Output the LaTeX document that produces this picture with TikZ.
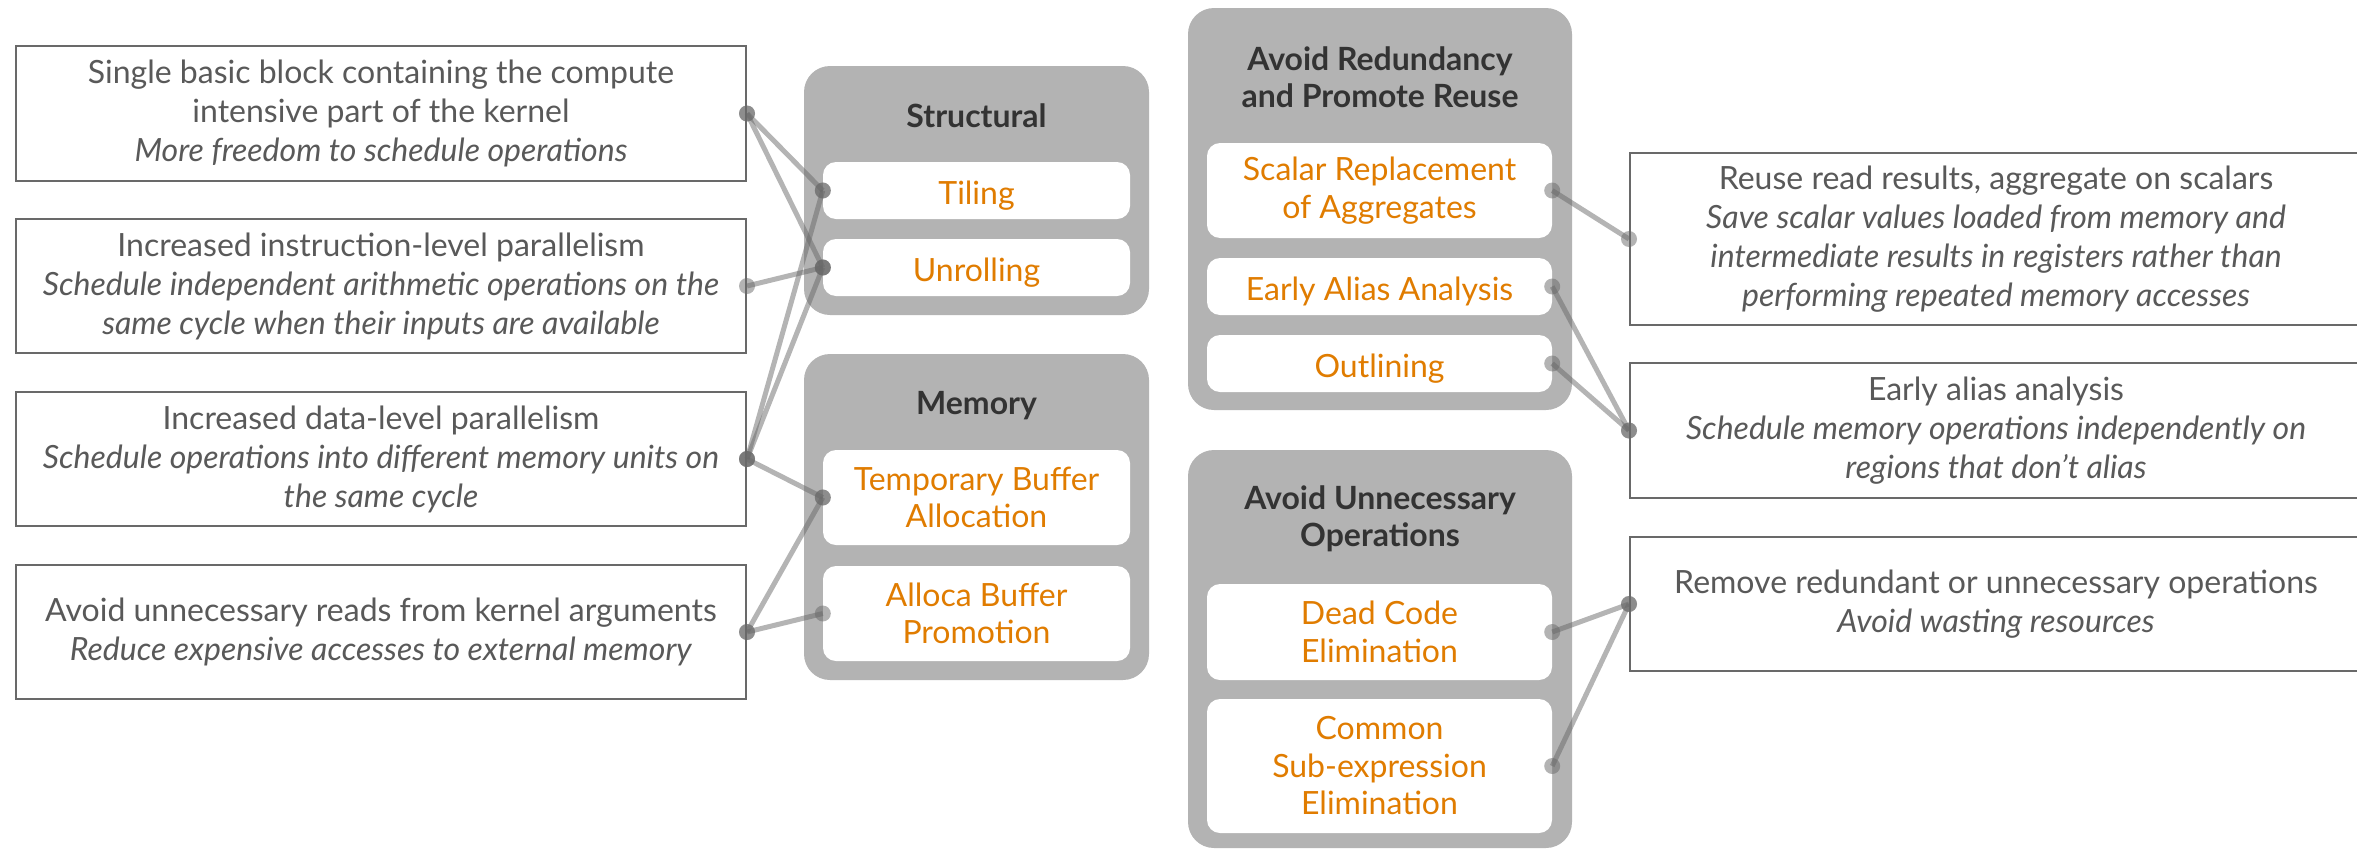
\documentclass[tikz,border=0pt]{standalone}
\usepackage{fontspec}
\setmainfont{Lato}
\definecolor{grpfill}{RGB}{179,179,179}
\definecolor{orng}{RGB}{224,124,0}
\definecolor{txtgray}{RGB}{89,89,89}
\definecolor{boxline}{RGB}{105,105,105}
\definecolor{ttl}{RGB}{51,51,51}
\definecolor{connc}{RGB}{105,105,105}
\newcommand\linkab[2]{%
  \draw[connline] (#1.east) -- (#2.west);
  \fill[conndot] (#1.east) circle (8pt);
  \fill[conndot] (#2.west) circle (8pt);
}
\newcommand\topstrut{\rule{0pt}{31pt}}
\newcommand\itemstrut{\rule{0pt}{33pt}}
\begin{document}
\begin{tikzpicture}[x=1pt,y=-1pt,
  desc/.style={draw=boxline, line width=2pt, fill=white, text=txtgray, align=center,
    inner sep=0pt, font=\fontsize{32}{39}\selectfont, execute at begin node=\topstrut},
  grp/.style={fill=grpfill, rounded corners=26pt, inner sep=0pt, draw=none},
  itembox/.style={fill=white, rounded corners=13pt, inner sep=0pt, text=orng, align=center,
    font=\fontsize{32}{37.5}\selectfont, minimum width=#1, execute at begin node=\itemstrut},
  ttlnode/.style={text=ttl, align=center, inner sep=0pt, font=\bfseries\fontsize{32}{37.5}\selectfont},
  connline/.style={draw=connc, line width=5pt, draw opacity=0.5},
  conndot/.style={fill=connc, fill opacity=0.5}
]
\useasboundingbox (0,0) rectangle (2357,849);

% left description boxes
\node[desc, minimum width=730pt, minimum height=135pt] (L1) at (381,113.5)
  {Single basic block containing the compute\\intensive part of the kernel\\\textit{More freedom to schedule operations}};
\node[desc, minimum width=730pt, minimum height=134pt] (L2) at (381,286)
  {Increased instruction-level parallelism\\\textit{Schedule independent arithmetic operations on the}\\\textit{same cycle when their inputs are available}};
\node[desc, minimum width=730pt, minimum height=134pt] (L3) at (381,459)
  {Increased data-level parallelism\\\textit{Schedule operations into different memory units on}\\\textit{the same cycle}};
\node[desc, minimum width=730pt, minimum height=134pt] (L4) at (381,632)
  {Avoid unnecessary reads from kernel arguments\\\textit{Reduce expensive accesses to external memory}};

% groups
\node[grp, minimum width=345pt, minimum height=249pt] (gS) at (976.5,190.5) {};
\node[grp, minimum width=345pt, minimum height=326pt] (gM) at (976.5,517) {};
\node[grp, minimum width=384pt, minimum height=402pt] (gR) at (1380,209) {};
\node[grp, minimum width=384pt, minimum height=398pt] (gU) at (1380,649) {};

\node[ttlnode] (tS) at (976.5,116) {Structural};
\node[ttlnode] (tM) at (976.5,406) {Memory};
\node[ttlnode] (tR) at (1380,77) {Avoid Redundancy\\and Promote Reuse};
\node[ttlnode] (tU) at (1380,519) {Avoid Unnecessary\\Operations};

% items
\node[itembox=307pt, minimum height=57pt] (tiling) at (976.5,190.5) {Tiling};
\node[itembox=307pt, minimum height=57pt] (unroll) at (976.5,267.5) {Unrolling};
\node[itembox=307pt, minimum height=95pt] (temp) at (976.5,497.5) {Temporary Buffer\\Allocation};
\node[itembox=307pt, minimum height=95pt] (alloca) at (976.5,613.5) {Alloca Buffer\\Promotion};
\node[itembox=345pt, minimum height=95pt] (scalar) at (1379.5,190.5) {Scalar Replacement\\of Aggregates};
\node[itembox=345pt, minimum height=57pt] (early) at (1379.5,286.5) {Early Alias Analysis};
\node[itembox=345pt, minimum height=57pt] (outl) at (1379.5,363.5) {Outlining};
\node[itembox=345pt, minimum height=96pt] (dead) at (1379.5,632) {Dead Code\\Elimination};
\node[itembox=345pt, minimum height=134pt] (cse) at (1379.5,766) {Common\\Sub-expression\\Elimination};

% right description boxes
\node[desc, minimum width=732pt, minimum height=172pt] (R1) at (1996,239)
  {Reuse read results, aggregate on scalars\\\textit{Save scalar values loaded from memory and}\\\textit{intermediate results in registers rather than}\\\textit{performing repeated memory accesses}};
\node[desc, minimum width=732pt, minimum height=135pt] (R2) at (1996,430.5)
  {Early alias analysis\\\textit{Schedule memory operations independently on}\\\textit{regions that don’t alias}};
\node[desc, minimum width=732pt, minimum height=134pt] (R3) at (1996,604)
  {Remove redundant or unnecessary operations\\\textit{Avoid wasting resources}};

% connectors
\linkab{L1}{tiling}
\linkab{L1}{unroll}
\linkab{L2}{unroll}
\linkab{L3}{tiling}
\linkab{L3}{unroll}
\linkab{L3}{temp}
\linkab{L4}{temp}
\linkab{L4}{alloca}
\linkab{scalar}{R1}
\linkab{early}{R2}
\linkab{outl}{R2}
\linkab{dead}{R3}
\linkab{cse}{R3}
\end{tikzpicture}
\end{document}
